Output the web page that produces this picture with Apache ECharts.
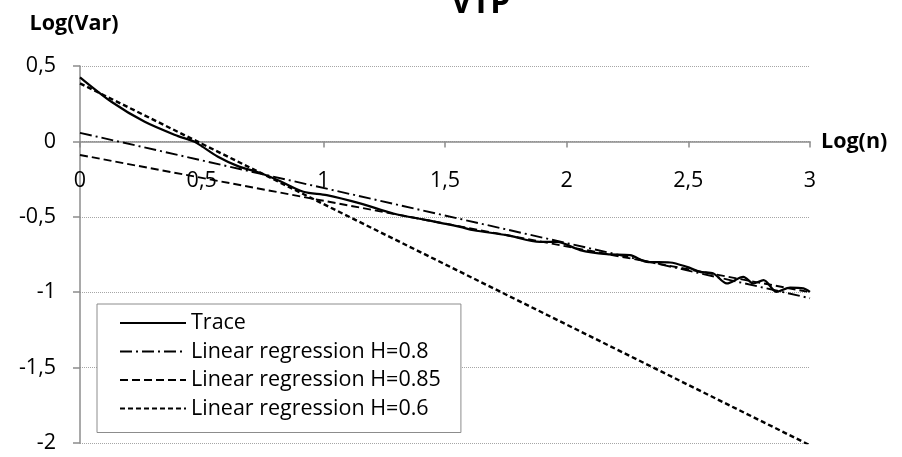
<!DOCTYPE html>
<html>
<head>
<meta charset="utf-8">
<script src="https://cdn.jsdelivr.net/npm/echarts@6/dist/echarts.min.js"></script>
<style>
html,body{margin:0;padding:0;background:#fff;}
#chart{width:902px;height:457px;}
</style>
</head>
<body>
<div id="chart"></div>
<script>
// ---- data ----
var traceLogN = [0, 0.129, 0.266, 0.403, 0.471, 0.567, 0.649, 0.732, 0.814, 0.918, 1.014, 1.151, 1.288, 1.425, 1.562, 1.617, 1.754, 1.891, 1.959, 2.055, 2.165, 2.26, 2.329, 2.425, 2.494, 2.548, 2.603, 2.658, 2.726, 2.767, 2.809, 2.863, 2.918, 2.973, 3.0];
var traceLogVar = [0.425, 0.263, 0.130, 0.035, -0.003, -0.102, -0.164, -0.205, -0.257, -0.334, -0.356, -0.411, -0.478, -0.522, -0.567, -0.589, -0.622, -0.666, -0.666, -0.721, -0.748, -0.754, -0.799, -0.803, -0.832, -0.865, -0.876, -0.942, -0.898, -0.942, -0.920, -0.998, -0.969, -0.975, -0.998];
var regLogN = [0, 3];
var regH080 = [0.057, -1.04];
var regH085 = [-0.09, -1.0];
var regH060 = [0.385, -2.015];
var seriesNames = ['Trace', 'Linear regression H=0.8', 'Linear regression H=0.85', 'Linear regression H=0.6'];
var titleText = 'VTP';
var xName = 'Log(n)';
var yName = 'Log(Var)';
var yMin = -2, yMax = 0.5;

function pairs(xs, ys) { return xs.map(function (x, i) { return [x, ys[i]]; }); }
function fmt(v) { return String(v).replace('.', ','); }

var FONT = 'Open Sans';
var W = 902, H = 457;
var gridTop = 66, gridBottom = 14;
var gridH = H - gridTop - gridBottom;
// offset so the x axis sits at value 0
var zeroOffset = -gridH * (0 - yMin) / (yMax - yMin);

var chart = echarts.init(document.getElementById('chart'), null, {renderer: 'canvas'});
chart.setOption({
  animation: false,
  backgroundColor: '#ffffff',
  title: {
    text: titleText, left: 446, top: -17,
    textStyle: {fontFamily: FONT, fontWeight: 'bold', fontSize: 32, color: '#000'}
  },
  grid: {left: 80, right: 92, top: gridTop, bottom: gridBottom, containLabel: false, outerBoundsMode: 'none'},
  legend: {
    orient: 'vertical', left: 97, top: 304,
    padding: [8, 20, 13, 22],
    itemWidth: 66, itemHeight: 14, itemGap: 6.5,
    borderColor: '#8c8c8c', borderWidth: 1,
    backgroundColor: '#fff',
    itemStyle: {opacity: 0, color: 'transparent', borderWidth: 0},
    textStyle: {fontFamily: FONT, fontSize: 21.5, color: '#000', lineHeight: 22},
    data: seriesNames
  },
  xAxis: {
    type: 'value', min: 0, max: 3, interval: 0.5,
    offset: zeroOffset,
    name: xName, nameLocation: 'end', nameGap: 11,
    nameTextStyle: {fontFamily: FONT, fontWeight: 'bold', fontSize: 21.5, color: '#000', verticalAlign: 'middle', padding: [4, 0, 0, 0]},
    axisLine: {onZero: false, lineStyle: {color: '#8c8c8c', width: 1.5}},
    axisTick: {show: true, inside: false, length: 6, lineStyle: {color: '#8c8c8c', width: 1.5}},
    axisLabel: {margin: 28, fontFamily: FONT, fontSize: 21.5, color: '#000', formatter: fmt, showMinLabel: true, showMaxLabel: true},
    splitLine: {show: false}
  },
  yAxis: {
    type: 'value', min: yMin, max: yMax, interval: 0.5,
    name: yName, nameLocation: 'end', nameGap: 31,
    nameTextStyle: {fontFamily: FONT, fontWeight: 'bold', fontSize: 21.5, color: '#000', align: 'center', padding: [0, 12, 0, 0]},
    axisLine: {show: true, onZero: false, lineStyle: {color: '#8c8c8c', width: 1.5}},
    axisTick: {show: true, inside: false, length: 7, lineStyle: {color: '#8c8c8c', width: 1.5}},
    axisLabel: {margin: 24, fontFamily: FONT, fontSize: 21.5, color: '#000', formatter: fmt},
    splitLine: {show: true, lineStyle: {color: '#a6a6a6', width: 1, type: [1, 1]}}
  },
  series: [
    {
      name: seriesNames[0], type: 'line', symbol: 'none', smooth: 0.3,
      data: pairs(traceLogN, traceLogVar),
      lineStyle: {color: '#000', width: 2.2, type: 'solid'},
      itemStyle: {color: '#000'}, z: 5
    },
    {
      name: seriesNames[1], type: 'line', symbol: 'none',
      data: pairs(regLogN, regH080),
      lineStyle: {color: '#000', width: 1.9, type: [12, 4, 2, 4]},
      itemStyle: {color: '#000'}
    },
    {
      name: seriesNames[2], type: 'line', symbol: 'none',
      data: pairs(regLogN, regH085),
      lineStyle: {color: '#000', width: 1.9, type: [8, 4]},
      itemStyle: {color: '#000'}
    },
    {
      name: seriesNames[3], type: 'line', symbol: 'none',
      data: pairs(regLogN, regH060),
      lineStyle: {color: '#000', width: 2.4, type: [5, 3]},
      itemStyle: {color: '#000'}
    }
  ]
});
</script>
</body>
</html>
